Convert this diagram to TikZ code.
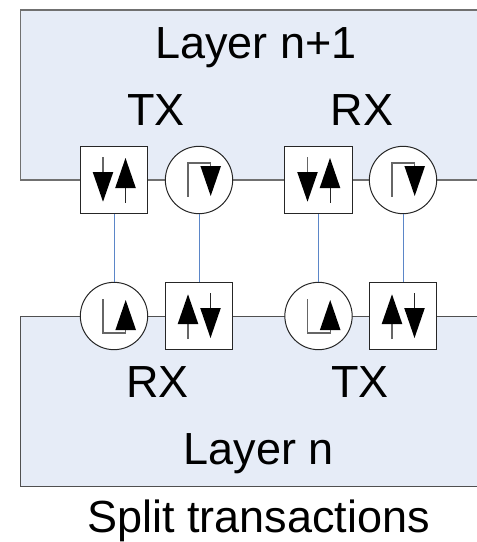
\documentclass[tikz,border=0pt]{standalone}
\usepackage{fontspec}
\setmainfont{Liberation Sans}

\definecolor{layerfill}{HTML}{E6ECF7}
\definecolor{layeredge}{HTML}{505050}
\definecolor{upperedge}{HTML}{707070}
\definecolor{linkblue}{HTML}{5B86C8}
\definecolor{stemgrey}{HTML}{666666}

\tikzset{every picture/.style={line width=0.75pt}}
\tikzset{
	boxnode/.style={draw=black!85,fill=white,minimum size=50.5pt,inner sep=0pt},
	roundnode/.style={circle,draw=black!85,fill=white,minimum size=50.5pt,inner sep=0pt},
	link/.style={draw=linkblue},
	stem/.style={draw=stemgrey,line width=1pt},
	thinstem/.style={draw=black!85,line width=0.75pt},
	label/.style={anchor=base,inner sep=0pt,font=\fontsize{33.75pt}{40pt}\selectfont},
	swapglyph/.pic={
		\draw [stem] (-11,-23) -- (-11,-8);
		\fill (-21.3,-8) -- (-0.7,-8) -- (-11,21.7) -- cycle;
		\draw [thinstem] (11.5,8) -- (11.5,22.7);
		\fill (1.2,8) -- (21.8,8) -- (11.5,-22) -- cycle;
	},
	loopglyph/.pic={
		\draw [stem] (-11,16.7) -- (-11,-17) -- (11.7,-17) -- (11.7,-14);
		\fill (1.4,-14) -- (22,-14) -- (11.7,16) -- cycle;
	}
}

\begin{document}
\begin{tikzpicture}[x=0.75pt,y=0.75pt,yscale=-1,xscale=1]
	\useasboundingbox (0,0) rectangle (477,542);
	
	%Layer outlines
	\fill [layerfill] (20.5,10) rectangle (477,180);
	\draw [upperedge,line width=1pt] (477,10) -- (20.5,10) -- (20.5,180) -- (477,180);
	\fill [layerfill] (20.5,316) rectangle (477,486);
	\draw [layeredge] (477,316) -- (20.5,316) -- (20.5,486) -- (477,486);
	
	%Upper row
	\node [boxnode] (txa) at (114,180) {};
	\node [roundnode] (txb) at (199,180) {};
	\node [boxnode] (rxa) at (318.5,180) {};
	\node [roundnode] (rxb) at (403,180) {};
	%Lower row
	\node [roundnode] (lrxa) at (114,316) {};
	\node [boxnode] (lrxb) at (199,316) {};
	\node [roundnode] (ltxa) at (318.5,316) {};
	\node [boxnode] (ltxb) at (403,316) {};
	
	%Links
	\draw [link] (txa) -- (lrxa);
	\draw [link] (txb) -- (lrxb);
	\draw [link] (rxa) -- (ltxa);
	\draw [link] (rxb) -- (ltxb);
	
	%Glyphs
	\pic [yscale=-1] at (txa) {swapglyph};
	\pic [yscale=-1] at (txb) {loopglyph};
	\pic [yscale=-1] at (rxa) {swapglyph};
	\pic [yscale=-1] at (rxb) {loopglyph};
	\pic at (lrxa) {loopglyph};
	\pic at (lrxb) {swapglyph};
	\pic at (ltxa) {loopglyph};
	\pic at (ltxb) {swapglyph};
	
	% Text Node
	\node [label] (uppername) at (256,58.3) {Layer n+1};
	% Text Node
	\node [label] (uppertx) at (156,125.7) {TX};
	% Text Node
	\node [label] (upperrx) at (362,125.7) {RX};
	% Text Node
	\node [label] (lowerrx) at (157.5,397.3) {RX};
	% Text Node
	\node [label] (lowertx) at (360,397.3) {TX};
	% Text Node
	\node [label] (lowername) at (259,464) {Layer n};
	% Text Node
	\node [label] (caption) at (258.7,532.5) {Split transactions};
\end{tikzpicture}
\end{document}
